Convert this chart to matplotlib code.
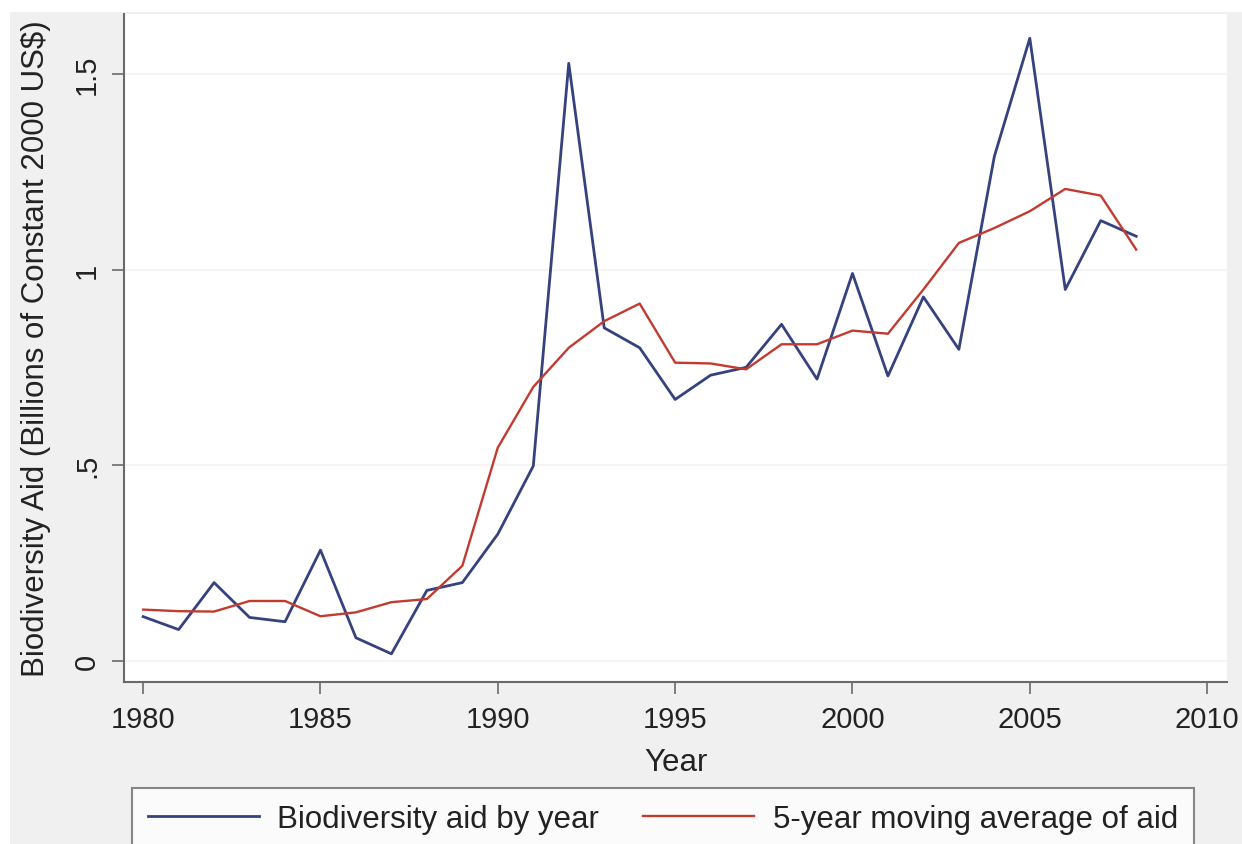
import matplotlib
matplotlib.use("Agg")
import matplotlib.pyplot as plt
from matplotlib.patches import Rectangle

# data
years = list(range(1980, 2009))
aid_by_year = [0.113, 0.080, 0.200, 0.111, 0.100, 0.283, 0.059, 0.018, 0.180, 0.200,
               0.324, 0.498, 1.527, 0.851, 0.800, 0.668, 0.730, 0.750, 0.860, 0.720,
               0.990, 0.728, 0.930, 0.796, 1.289, 1.591, 0.949, 1.125, 1.085]
aid_moving_avg = [0.131, 0.127, 0.126, 0.153, 0.153, 0.114, 0.124, 0.150, 0.158, 0.243,
                  0.545, 0.700, 0.800, 0.868, 0.913, 0.762, 0.760, 0.745, 0.809, 0.809,
                  0.844, 0.836, 0.949, 1.068, 1.106, 1.149, 1.206, 1.189, 1.051]
x_ticks = [1980, 1985, 1990, 1995, 2000, 2005, 2010]
y_ticks = [0, 0.5, 1, 1.5]
y_tick_labels = ["0", ".5", "1", "1.5"]
series_labels = ["Biodiversity aid by year", "5-year moving average of aid"]

W, H = 1242, 845
plt.rcParams['font.family'] = ['Liberation Sans', 'DejaVu Sans']
plt.rcParams['font.size'] = 21

fig = plt.figure(figsize=(W / 100, H / 100), dpi=100, facecolor='white')
# gray graph region (Stata style), leaving a thin white border top/left
fig.patches.append(Rectangle((10 / W, 0), 1, 1 - 13 / H, transform=fig.transFigure,
                             facecolor='#f0f0f0', edgecolor='none', zorder=-10))

ax = fig.add_axes([124 / W, 1 - 683 / H, (1227 - 124) / W, (683 - 15) / H])
ax.set_facecolor('white')

blue, = ax.plot(years, aid_by_year, color='#36427e', lw=2.0)
red, = ax.plot(years, aid_moving_avg, color='#c23b30', lw=1.7)

ax.set_xlim(1979.46, 2010.56)
ax.set_ylim(-0.054, 1.653)
ax.set_xticks(x_ticks)
ax.set_yticks(y_ticks)
ax.set_yticklabels(y_tick_labels, rotation=90, va='center')
ax.grid(axis='y', color='#f3f3f3', lw=1.2)
ax.set_axisbelow(True)

for s in ['top', 'right']:
    ax.spines[s].set_visible(False)
for s in ['left', 'bottom']:
    ax.spines[s].set_color('#6a6a6a')
    ax.spines[s].set_linewidth(1.5)
ax.tick_params(direction='out', length=8.5, width=1.2, color='#6a6a6a',
               labelcolor='#222222', labelsize=21)
ax.tick_params(axis='x', pad=8)
ax.tick_params(axis='y', pad=8)

ax.set_xlabel("Year", color='#222222', fontsize=22.5, labelpad=10)
ax.set_ylabel("Biodiversity Aid (Billions of Constant 2000 US\\$)", color='#222222',
              fontsize=22.5, labelpad=16)

leg = fig.legend([blue, red], series_labels, loc='upper left',
                 bbox_to_anchor=(132 / W, 1 - 789 / H), ncol=2, fontsize=22.5,
                 frameon=True, fancybox=False, edgecolor='#6a6a6a',
                 handlelength=3.55, handletextpad=0.6, columnspacing=1.4,
                 borderpad=0.5, borderaxespad=0)
leg.get_frame().set_linewidth(1.5)
leg.get_frame().set_facecolor('white')
for t in leg.get_texts():
    t.set_color('#222222')

fig.savefig("out.png", dpi=100, facecolor=fig.get_facecolor())
